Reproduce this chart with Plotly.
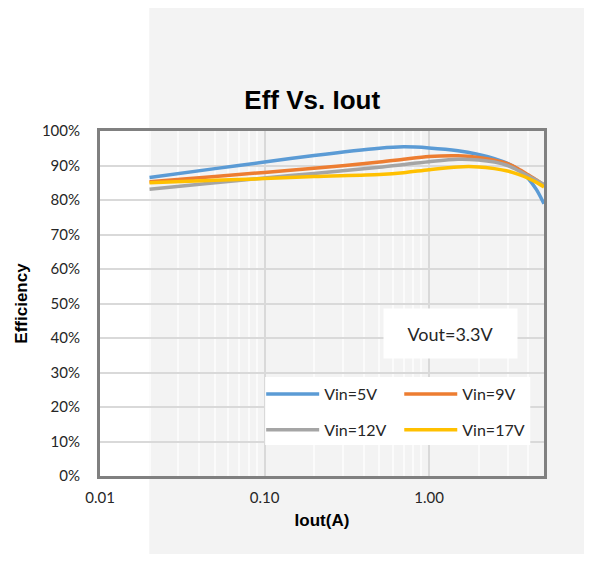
import plotly.graph_objects as go

iout = [0.02, 0.05, 0.1, 0.2, 0.5, 0.7, 1.0, 1.5, 2.0, 2.5, 3.0, 3.5, 4.0, 4.5, 5.0]
eff_5v = [0.865, 0.891, 0.910, 0.929, 0.950, 0.954, 0.951, 0.943, 0.932, 0.920, 0.906, 0.888, 0.863, 0.830, 0.789]
eff_9v = [0.853, 0.868, 0.880, 0.892, 0.910, 0.918, 0.926, 0.928, 0.923, 0.915, 0.905, 0.890, 0.873, 0.858, 0.843]
eff_12v = [0.831, 0.850, 0.864, 0.877, 0.895, 0.903, 0.911, 0.918, 0.916, 0.910, 0.900, 0.885, 0.870, 0.857, 0.845]
eff_17v = [0.850, 0.857, 0.862, 0.868, 0.874, 0.879, 0.888, 0.896, 0.896, 0.891, 0.884, 0.874, 0.863, 0.851, 0.838]

series_names = ["Vin=5V", "Vin=9V", "Vin=12V", "Vin=17V"]
series_values = [eff_5v, eff_9v, eff_12v, eff_17v]
series_colors = ["#5b9bd5", "#ed7d31", "#a5a5a5", "#ffc000"]
series_legend = ["legend", "legend2", "legend", "legend2"]

x_tick_vals = [0.01, 0.1, 1]
x_tick_text = ["0.01", "0.10", "1.00"]
x_minor_vals = [0.02, 0.03, 0.04, 0.05, 0.06, 0.07, 0.08, 0.09,
                0.2, 0.3, 0.4, 0.5, 0.6, 0.7, 0.8, 0.9, 2, 3, 4]

body_font = "Lato, Open Sans, sans-serif"
tick_font = dict(family=body_font, size=15, color="#262626")
legend_font = dict(family=body_font, size=16, color="#262626")

fig = go.Figure()
for i, (name, vals, col, lg) in enumerate(zip(series_names, series_values, series_colors, series_legend)):
    fig.add_trace(go.Scatter(x=iout, y=vals, name=name, mode="lines", legend=lg,
                             legendgroup=f"g{i}",
                             line=dict(color=col, width=3.5, shape="spline", smoothing=0.8)))

legend_common = dict(orientation="v", yanchor="top", xanchor="left", bgcolor="rgba(0,0,0,0)",
                     font=legend_font, itemwidth=53, tracegroupgap=12)

fig.update_layout(
    width=584, height=546,
    margin=dict(l=87, r=48, t=123, b=78),
    paper_bgcolor="white",
    plot_bgcolor="rgba(0,0,0,0)",
    title=dict(text="<b>Eff Vs. Iout</b>", x=0.521, xanchor="center", y=0.832, yanchor="middle",
               font=dict(family="Liberation Sans Narrow, Arial Narrow, Liberation Sans, sans-serif", size=26, color="black")),
    showlegend=True,
    legend=dict(x=0.363, y=0.287, **legend_common),
    legend2=dict(x=0.674, y=0.287, **legend_common),
    shapes=[dict(type="rect", xref="paper", yref="paper", x0=0.111, x1=1.2, y0=-0.3, y1=1.5,
                 fillcolor="#f3f3f3", line=dict(width=0), layer="below"),
            dict(type="rect", xref="paper", yref="paper", x0=0.372, x1=0.969, y0=0.09, y1=0.287,
                 fillcolor="white", line=dict(width=0), layer="above")],
    annotations=[dict(text="Vout=3.3V", xref="paper", yref="paper", x=0.79, y=0.413,
                      xanchor="center", yanchor="middle", showarrow=False,
                      bgcolor="white", width=129, height=45, borderpad=2,
                      font=dict(family=body_font, size=18, color="#262626"))],
)

fig.update_xaxes(type="log", range=[-2, 0.699], tickvals=x_tick_vals, ticktext=x_tick_text,
                 showgrid=True, gridcolor="#d9d9d9", gridwidth=1.5,
                 minor=dict(tickvals=x_minor_vals, showgrid=True, gridcolor="#fbfbfb", gridwidth=1.5),
                 showline=True, linecolor="#808080", linewidth=3, mirror=True,
                 ticks="", tickfont=tick_font, zeroline=False, ticklabelstandoff=6,
                 title=dict(text="<b>Iout(A)</b>", standoff=10,
                            font=dict(family="Liberation Sans, Arial, sans-serif", size=17, color="black")))
fig.update_yaxes(range=[0, 1], dtick=0.1, tickformat=".0%",
                 showgrid=True, gridcolor="#d9d9d9", gridwidth=1.5,
                 showline=True, linecolor="#808080", linewidth=3, mirror=True,
                 ticks="", tickfont=tick_font, zeroline=False, ticklabelstandoff=14,
                 title=dict(text="<b>Efficiency</b>", standoff=10,
                            font=dict(family="Liberation Sans, Arial, sans-serif", size=17, color="black")))

fig.write_html("out.html")
